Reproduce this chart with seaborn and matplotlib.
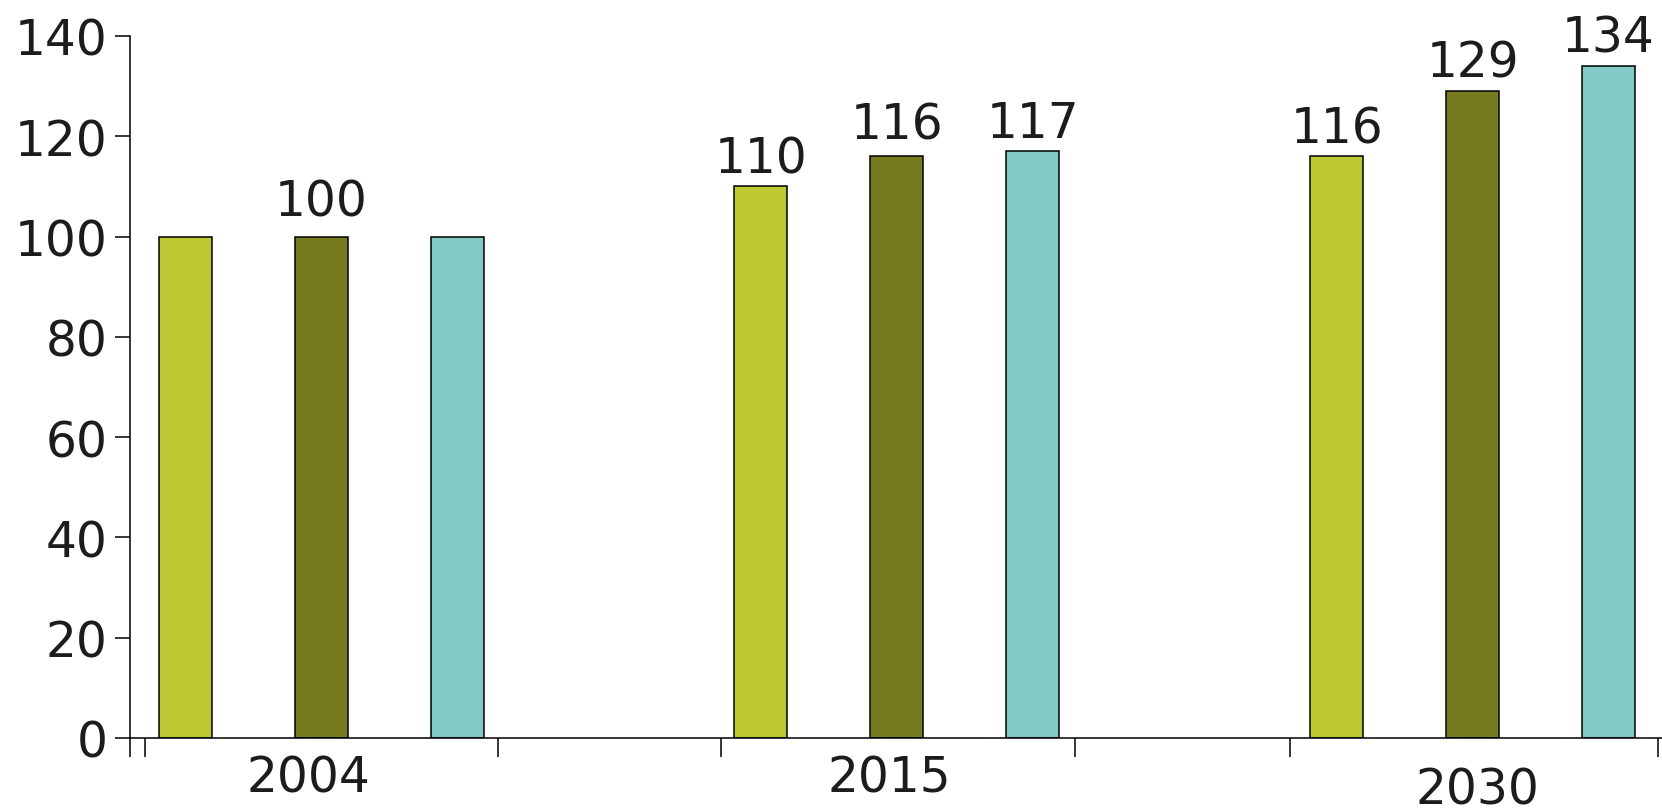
import matplotlib
matplotlib.use("Agg")
import matplotlib.pyplot as plt
import matplotlib.transforms as mtransforms
import pandas as pd
import seaborn as sns

# Index values (2004 = 100) for three series across three years
years = ["2004", "2015", "2030"]
series_names = ["Series 1", "Series 2", "Series 3"]
series_1 = [100, 110, 116]
series_2 = [100, 116, 129]
series_3 = [100, 117, 134]
# which values carry a printed label above the bar
show_1 = [False, True, True]
show_2 = [True, True, True]
show_3 = [False, True, True]
yticks = [0, 20, 40, 60, 80, 100, 120, 140]

colors = ["#bec832", "#767b1f", "#83cac5"]
text_color = "#1c1c1c"
FS = 35

sns.set_theme(style="white")
plt.rcParams["font.family"] = ["DejaVu Sans"]

df = pd.DataFrame({
    "year": years * 3,
    "value": series_1 + series_2 + series_3,
    "series": sum([[s] * len(years) for s in series_names], []),
})

fig = plt.figure(figsize=(16.62, 8.12), dpi=100)
W, H = 1662, 812
ax = fig.add_axes([130 / W, (H - 739) / H, (W - 130) / W, (739 - 37) / H])

sns.barplot(data=df, x="year", y="value", hue="series", order=years,
            hue_order=series_names, palette=colors, saturation=1,
            width=0.708, gap=0.61, edgecolor="black", linewidth=1.1,
            legend=False, errorbar=None, ax=ax)

# value labels above selected bars (label gap in points, per series)
label_pad = [[3, 3, 3], [8, 6, 3], [3, 3, 3]]
for cont, vals, shows, pads in zip(ax.containers,
                                   [series_1, series_2, series_3],
                                   [show_1, show_2, show_3], label_pad):
    for bar, v, s, p in zip(cont, vals, shows, pads):
        if not s:
            continue
        ax.annotate(str(v), (bar.get_x() + bar.get_width() / 2, bar.get_height()),
                    xytext=(0, p), textcoords="offset points",
                    ha="center", va="bottom", fontsize=FS, color=text_color,
                    annotation_clip=False)

ax.set_ylim(0, 140)
ax.set_xlim(-0.332, 2.329)
ax.set_yticks(yticks)
ax.set_yticklabels([str(t) for t in yticks])
ax.set_xlabel("")
ax.set_ylabel("")

# group boundary ticks along the x-axis
ax.set_xticks([-0.332, -0.306, 0.308, 0.694, 1.310, 1.683, 2.322])
ax.set_xticklabels([""] * 7)

ax.tick_params(axis="y", direction="out", length=11, width=1.1,
               color="black", labelsize=FS, labelcolor=text_color, pad=5,
               left=True)
ax.tick_params(axis="x", direction="out", length=14, width=1.1,
               color="black", bottom=True)

for side in ["top", "right"]:
    ax.spines[side].set_visible(False)
for side in ["left", "bottom"]:
    ax.spines[side].set_color("black")
    ax.spines[side].set_linewidth(1.1)

# year labels beneath each group
trans = mtransforms.blended_transform_factory(ax.transData, fig.transFigure)
year_x = [-0.022, 0.987, 2.009]
year_y = [(H - 779) / H, (H - 779) / H, (H - 791) / H]
for lbl, x, y in zip(years, year_x, year_y):
    ax.text(x, y, lbl, transform=trans, ha="center", va="center",
            fontsize=FS, color=text_color)

fig.savefig("out.png", dpi=100, facecolor="white")
